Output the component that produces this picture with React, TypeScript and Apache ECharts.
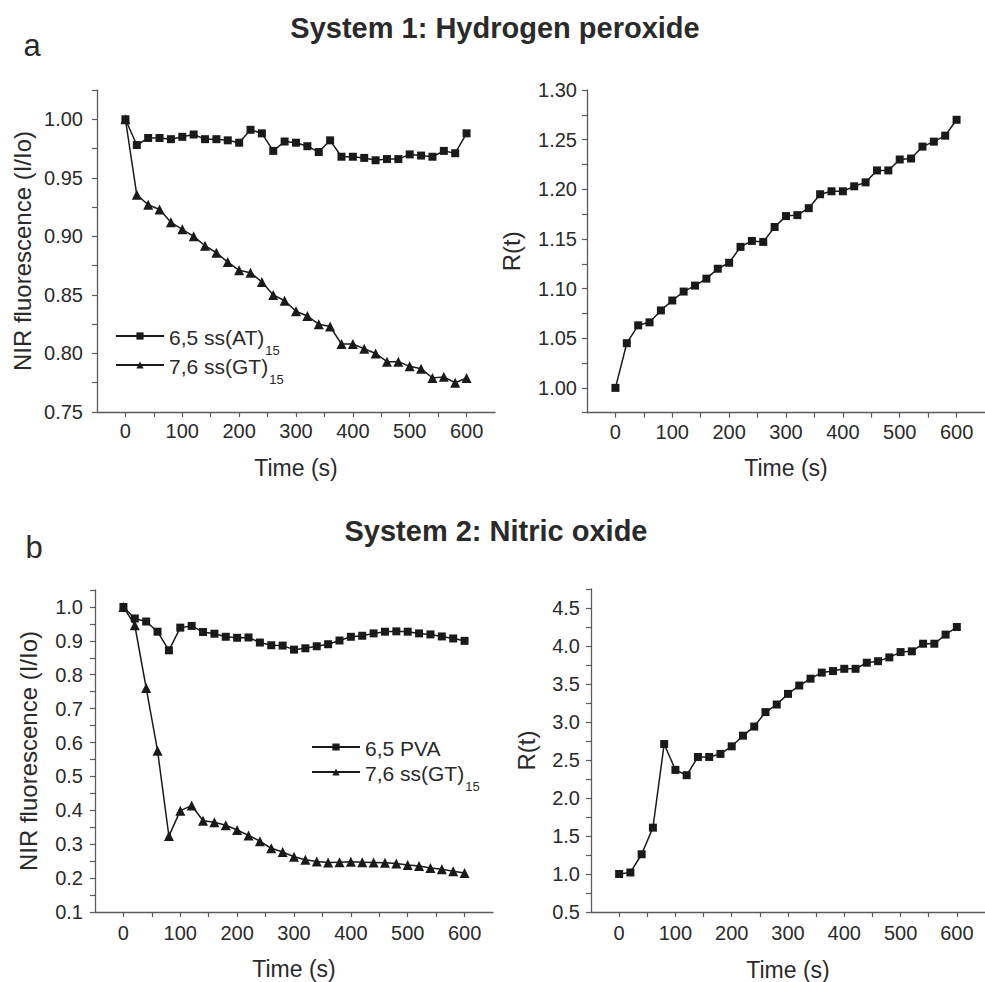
import React, { useEffect, useRef } from "react";
import * as echarts from "echarts";

const TIMES = [0, 20, 40, 60, 80, 100, 120, 140, 160, 180, 200, 220, 240, 260, 280, 300, 320, 340, 360, 380, 400, 420, 440, 460, 480, 500, 520, 540, 560, 580, 600];

const H2O2_AT = [1.0, 0.978, 0.984, 0.984, 0.983, 0.985, 0.987, 0.983, 0.983, 0.982, 0.98, 0.991, 0.988, 0.973, 0.981, 0.98, 0.977, 0.972, 0.982, 0.968, 0.968, 0.967, 0.965, 0.966, 0.966, 0.97, 0.969, 0.968, 0.973, 0.971, 0.988];
const H2O2_GT = [1.0, 0.9355, 0.927, 0.923, 0.912, 0.906, 0.9, 0.892, 0.886, 0.878, 0.871, 0.869, 0.861, 0.85, 0.845, 0.836, 0.832, 0.825, 0.823, 0.808, 0.808, 0.804, 0.8, 0.793, 0.793, 0.789, 0.787, 0.779, 0.78, 0.775, 0.779];
const H2O2_R = [1.0, 1.045, 1.063, 1.066, 1.078, 1.088, 1.097, 1.103, 1.11, 1.12, 1.126, 1.142, 1.148, 1.147, 1.162, 1.173, 1.174, 1.181, 1.195, 1.198, 1.198, 1.203, 1.207, 1.219, 1.219, 1.23, 1.231, 1.243, 1.248, 1.254, 1.27];

const NO_PVA = [1.0, 0.966, 0.957, 0.927, 0.872, 0.939, 0.944, 0.926, 0.921, 0.912, 0.909, 0.91, 0.895, 0.887, 0.886, 0.874, 0.878, 0.884, 0.89, 0.901, 0.912, 0.915, 0.922, 0.927, 0.928, 0.927, 0.922, 0.919, 0.913, 0.907, 0.9];
const NO_GT = [1.0, 0.946, 0.761, 0.576, 0.324, 0.399, 0.414, 0.369, 0.365, 0.356, 0.342, 0.326, 0.309, 0.288, 0.277, 0.263, 0.254, 0.249, 0.246, 0.247, 0.248, 0.247, 0.246, 0.245, 0.243, 0.239, 0.236, 0.23, 0.226, 0.22, 0.215];
const NO_R = [1.0, 1.02, 1.26, 1.61, 2.71, 2.37, 2.3, 2.54, 2.54, 2.58, 2.68, 2.82, 2.94, 3.13, 3.23, 3.37, 3.48, 3.57, 3.65, 3.67, 3.7, 3.7, 3.78, 3.8, 3.85, 3.92, 3.93, 4.03, 4.03, 4.15, 4.25];

const X_LABELS = [0, 100, 200, 300, 400, 500, 600];
const Y_LABELS_A_LEFT = [0.75, 0.8, 0.85, 0.9, 0.95, 1.0];
const Y_LABELS_A_RIGHT = [1.0, 1.05, 1.1, 1.15, 1.2, 1.25, 1.3];
const Y_LABELS_B_LEFT = [0.1, 0.2, 0.3, 0.4, 0.5, 0.6, 0.7, 0.8, 0.9, 1.0];
const Y_LABELS_B_RIGHT = [0.5, 1.0, 1.5, 2.0, 2.5, 3.0, 3.5, 4.0, 4.5];

const NAME_AT = "6,5 ss(AT)15";
const NAME_GT_A = "7,6 ss(GT)15";
const NAME_PVA = "6,5 PVA";
const NAME_GT_B = "7,6 ss(GT)15 ";

const FONT = "Liberation Sans, Arial, Helvetica, sans-serif";
const TEXT = "#2a2a2a";
const AXIS = "#5a5a5a";
const INK = "#1a1a1a";

function fmt(labels: number[], digits: number) {
  return (v: number) => {
    const m = labels.find((l) => Math.abs(l - v) < 1e-6);
    return m === undefined ? "" : m.toFixed(digits);
  };
}

function xAxis(grid: number, labelMargin: number, nameGap: number) {
  return {
    type: "value",
    gridIndex: grid,
    min: -50,
    max: 650,
    interval: 50,
    name: "Time (s)",
    nameLocation: "middle",
    nameGap,
    nameTextStyle: { fontSize: 23, color: TEXT, fontFamily: FONT },
    axisLine: { show: true, onZero: false, lineStyle: { color: AXIS, width: 1.3 } },
    axisTick: { show: true, inside: false, length: 5, lineStyle: { color: AXIS, width: 1.2 } },
    splitLine: { show: false },
    axisLabel: {
      show: true,
      margin: labelMargin,
      fontSize: 20,
      color: TEXT,
      fontFamily: FONT,
      showMinLabel: false,
      showMaxLabel: false,
      formatter: fmt(X_LABELS, 0),
    },
  };
}

function yAxis(grid: number, min: number, max: number, interval: number, labels: number[], digits: number, name: string, nameGap: number, labelMargin: number) {
  return {
    type: "value",
    gridIndex: grid,
    min,
    max,
    interval,
    name,
    nameLocation: "middle",
    nameGap,
    nameTextStyle: { fontSize: 24, color: TEXT, fontFamily: FONT },
    axisLine: { show: true, onZero: false, lineStyle: { color: AXIS, width: 1.3 } },
    axisTick: { show: true, inside: false, length: 5, lineStyle: { color: AXIS, width: 1.2 } },
    splitLine: { show: false },
    axisLabel: {
      show: true,
      margin: labelMargin,
      fontSize: 20,
      color: TEXT,
      fontFamily: FONT,
      formatter: fmt(labels, digits),
    },
  };
}

function lineSeries(name: string, values: number[], grid: number, symbol: string, size: number) {
  return {
    type: "line",
    name,
    xAxisIndex: grid,
    yAxisIndex: grid,
    data: TIMES.map((t, i) => [t, values[i]]),
    symbol,
    symbolSize: size,
    showAllSymbol: true,
    lineStyle: { color: INK, width: 1.5 },
    itemStyle: { color: INK },
    emphasis: { disabled: true },
  };
}

const legendFormatter = (name: string) => {
  const n = name.trim();
  if (n.endsWith(")15")) return `{n|${n.slice(0, -2)}}{s|15}`;
  return `{n|${n}}`;
};

const legendRich = {
  n: { fontSize: 21, fontFamily: FONT, color: TEXT, lineHeight: 24, padding: [3, 0, 0, 0], verticalAlign: "top" },
  s: { fontSize: 13, fontFamily: FONT, color: TEXT, lineHeight: 13, padding: [20, 0, 0, 1], verticalAlign: "top" },
};

export default function App() {
  const ref = useRef<HTMLDivElement>(null);
  useEffect(() => {
    if (!ref.current) return;
    const chart = echarts.init(ref.current, undefined, { renderer: "svg" });
    chart.setOption({
      animation: false,
      backgroundColor: "#ffffff",
      grid: [
        { left: 97, top: 90, width: 398, height: 322 },
        { left: 587, top: 90, width: 405, height: 322.7 },
        { left: 95, top: 590, width: 398, height: 322 },
        { left: 591, top: 589, width: 405, height: 323 },
      ],
      xAxis: [xAxis(0, 9, 44), xAxis(1, 9, 44), xAxis(2, 11, 45), xAxis(3, 11, 46)],
      yAxis: [
        yAxis(0, 0.75, 1.025, 0.025, Y_LABELS_A_LEFT, 2, "NIR fluorescence (I/Io)", 63, 14),
        yAxis(1, 0.975, 1.3, 0.025, Y_LABELS_A_RIGHT, 2, "R(t)", 64, 10),
        yAxis(2, 0.1, 1.05, 0.05, Y_LABELS_B_LEFT, 1, "NIR fluorescence (I/Io)", 55, 12),
        yAxis(3, 0.5, 4.75, 0.25, Y_LABELS_B_RIGHT, 1, "R(t)", 53, 11),
      ],
      legend: [
        {
          data: [NAME_AT, NAME_GT_A],
          orient: "vertical",
          left: 115,
          top: 324,
          itemWidth: 48,
          itemHeight: 9,
          itemGap: -4,
          padding: 0,
          selectedMode: false,
          formatter: legendFormatter,
          textStyle: { rich: legendRich },
        },
        {
          data: [NAME_PVA, NAME_GT_B],
          orient: "vertical",
          left: 311,
          top: 735,
          itemWidth: 48,
          itemHeight: 9,
          itemGap: 1,
          padding: 0,
          selectedMode: false,
          formatter: legendFormatter,
          textStyle: { rich: legendRich },
        },
      ],
      series: [
        lineSeries(NAME_AT, H2O2_AT, 0, "rect", 8),
        lineSeries(NAME_GT_A, H2O2_GT, 0, "triangle", 10),
        lineSeries("R(t) H2O2", H2O2_R, 1, "rect", 8),
        lineSeries(NAME_PVA, NO_PVA, 2, "rect", 8),
        lineSeries(NAME_GT_B, NO_GT, 2, "triangle", 10),
        lineSeries("R(t) NO", NO_R, 3, "rect", 8),
      ],
      graphic: [
        { type: "text", x: 495, y: 28, style: { text: "System 1: Hydrogen peroxide", fontSize: 29, fontWeight: "bold", fontFamily: FONT, fill: TEXT, align: "center", verticalAlign: "middle", textAlign: "center", textVerticalAlign: "middle" } },
        { type: "text", x: 496, y: 531, style: { text: "System 2: Nitric oxide", fontSize: 29, fontWeight: "bold", fontFamily: FONT, fill: TEXT, align: "center", verticalAlign: "middle", textAlign: "center", textVerticalAlign: "middle" } },
        { type: "text", x: 32, y: 45, style: { text: "a", fontSize: 31, fontFamily: FONT, fill: TEXT, align: "center", verticalAlign: "middle", textAlign: "center", textVerticalAlign: "middle" } },
        { type: "text", x: 34, y: 547, style: { text: "b", fontSize: 31, fontFamily: FONT, fill: TEXT, align: "center", verticalAlign: "middle", textAlign: "center", textVerticalAlign: "middle" } },
      ],
    });
    return () => chart.dispose();
  }, []);
  return <div ref={ref} style={{ position: "absolute", left: 0, top: 0, width: 985, height: 982, background: "#fff" }} />;
}
